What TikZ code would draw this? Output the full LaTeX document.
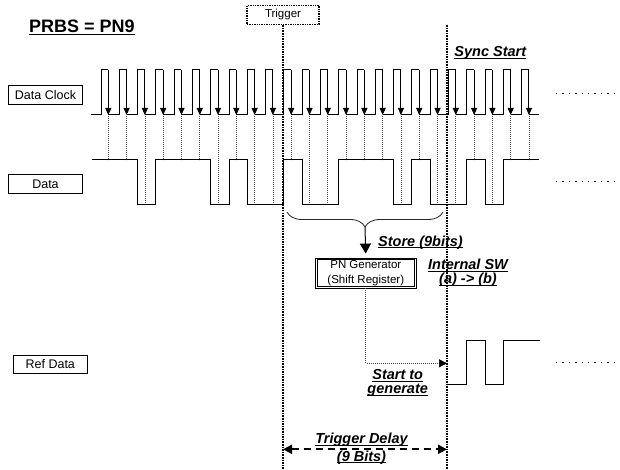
\documentclass[tikz,border=0pt]{standalone}
\usepackage{fontspec}
\setmainfont{Liberation Sans}
\usetikzlibrary{arrows.meta,decorations.pathreplacing}
\newcommand{\myul}[1]{\setbox0\hbox{#1}\rlap{\vrule height -1.3pt depth 2.4pt width \wd0}\box0}
\begin{document}
\begin{tikzpicture}[x=1pt,y=-1pt,
  wave/.style={line width=1pt},
  lbl/.style={draw, line width=0.8pt, minimum width=74pt, minimum height=18.5pt, inner sep=0pt, font=\fontsize{12.5}{14}\selectfont},
  note/.style={font=\fontsize{14.5}{16}\selectfont\bfseries\itshape, inner sep=0pt, anchor=base},
  heavydot/.style={line width=1.8pt, dash pattern=on 1.6pt off 1pt},
  thindot/.style={line width=0.7pt, black!70, dash pattern=on 0.8pt off 1.2pt},
  trail/.style={line width=1.4pt, dash pattern=on 1.4pt off 5pt},
  tip/.style={-{Triangle[length=7pt,width=6pt]}},
]
\useasboundingbox[fill=white] (0,0) rectangle (620,470);
\def\rz{101}\def\per{18.29}\def\hw{7.3}

% title
\node[font=\fontsize{18}{20}\selectfont\bfseries, inner sep=0pt, anchor=base] (title) at (82,33) {\myul{PRBS = PN9}};

% row labels
\node[lbl] (lclk) at (45.5,95) {Data Clock};
\node[lbl] (ldat) at (45.5,184) {Data};
\node[lbl] (lref) at (50.3,364.5) {Ref Data};

% clock
\draw[wave] (91,115) foreach \k in {0,...,23}{ -- ({\rz+\per*\k},115) -- ({\rz+\per*\k},70) -- ({\rz+\per*\k+\hw},70) ({\rz+\per*\k+\hw},115) } -- (539,115);
\foreach \k in {0,...,23} \draw[wave,tip] ({\rz+\per*\k+\hw},70) -- ({\rz+\per*\k+\hw},115);

% sampling lines
\foreach \k/\lv in {0/160,1/160,2/205,3/160,4/160,5/160,6/205,7/160,8/205,9/205,10/160,11/205,12/205,13/160,14/160,15/160,16/205,17/160,18/205,19/205,20/160,21/205,22/160,23/160}
  \draw[thindot] ({\rz+\per*\k+\hw},116) -- ({\rz+\per*\k+\hw},\lv);

% data
\draw[wave] (92,160) -- (137.58,160) -- (137.58,205) -- (155.87,205) -- (155.87,160) -- (210.74,160) -- (210.74,205) -- (229.03,205) -- (229.03,160) -- (247.32,160) -- (247.32,205) -- (283.9,205) -- (283.9,160) -- (302.19,160) -- (302.19,205) -- (338.77,205) -- (338.77,160) -- (393.64,160) -- (393.64,205) -- (411.93,205) -- (411.93,160) -- (430.22,160) -- (430.22,205) -- (466.8,205) -- (466.8,160) -- (485.09,160) -- (485.09,205) -- (503.38,205) -- (503.38,160) -- (539,160);

% ref data
\draw[wave] (447,384) -- (466.8,384) -- (466.8,340) -- (485.09,340) -- (485.09,384) -- (503.38,384) -- (503.38,340) -- (540,340);

% trailing dots
\draw[trail] (556,93.3) -- (620,93.3);
\draw[trail] (556,181.7) -- (620,181.7);
\draw[trail] (556,362.7) -- (620,362.7);

% trigger
\node[draw, line width=1.6pt, dash pattern=on 1.4pt off 1pt, minimum width=72pt, minimum height=19pt, inner sep=0pt, font=\fontsize{11.5}{13}\selectfont] (trig) at (283,15) {Trigger};
\coordinate (trigBot) at (283,470);
\draw[heavydot] (trig.south) -- (trigBot);

% sync start
\coordinate (syncTop) at (447,25);
\coordinate (syncBot) at (447,470);
\draw[heavydot] (syncTop) -- (syncBot);
\node[note] (sync) at (490.3,56.5) {\myul{Sync Start}};

% brace and PN generator
\coordinate (bR) at (443,212);
\coordinate (bL) at (287,212);
\draw[line width=0.8pt, black!85, decorate, decoration={brace, amplitude=15pt}] (bR) -- (bL);
\coordinate (bTip) at (365,227);
\node[draw, line width=0.8pt, minimum width=101pt, minimum height=30pt, align=center, inner sep=0pt, font=\fontsize{11.5}{14.5}\selectfont] (pn) at (365.8,273) {PN Generator\\(Shift Register)};
\draw[line width=0.7pt] ([shift={(2.2pt,2.2pt)}]pn.south west) rectangle ([shift={(-2.2pt,-2.2pt)}]pn.north east);
\draw[line width=1pt, -{Triangle[length=10pt,width=11pt]}, shorten >=4pt] (bTip) -- (pn.north);
\node[note] (store) at (420.5,246) {\myul{Store (9bits)}};
\node[note] (isw1) at (468,269.3) {\myul{Internal SW}};
\node[note] (isw2) at (468,283.3) {\myul{(a) -> (b)}};

% start to generate
\coordinate (stgArr) at (447,363.3);
\draw[thindot, -{Triangle[length=8pt,width=8pt,black]}] (pn.south) |- (stgArr);
\node[note] (stg1) at (397.7,379.3) {\myul{Start to}};
\node[note] (stg2) at (397.7,393.3) {\myul{generate}};

% trigger delay
\coordinate (tdL) at (283,449.3);
\coordinate (tdR) at (447,449.3);
\draw[line width=1.8pt, dash pattern=on 7pt off 5pt, {Triangle[length=9pt,width=9pt]}-{Triangle[length=9pt,width=9pt]}] (tdL) -- (tdR);
\node[note] (td1) at (361.5,443.3) {\myul{Trigger Delay}};
\node[note] (td2) at (361.5,461) {\myul{(9 Bits)}};
\end{tikzpicture}
\end{document}
